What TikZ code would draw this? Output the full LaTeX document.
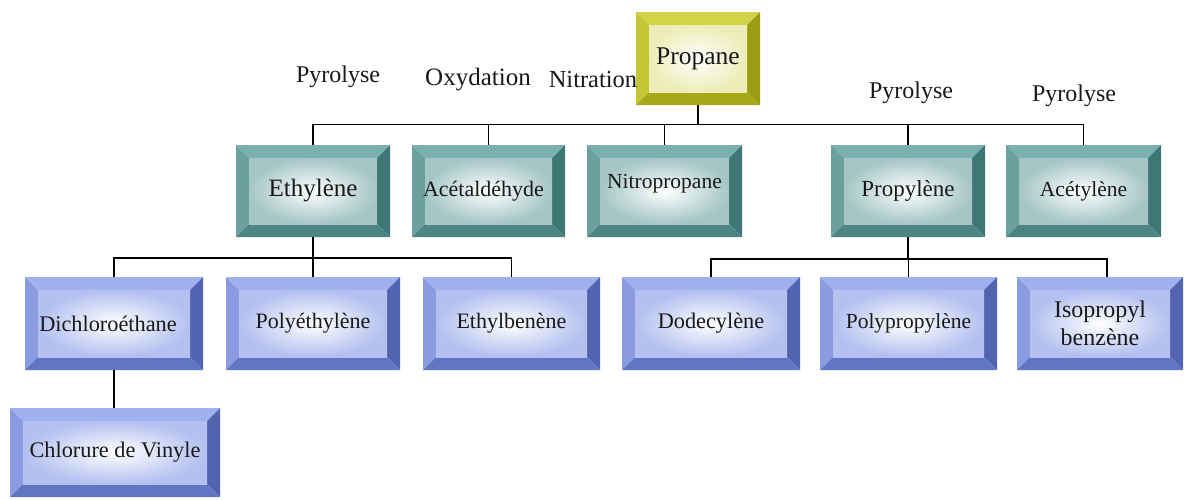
\documentclass[tikz,border=0pt]{standalone}
\usepackage{fontspec}
\setmainfont{Liberation Serif}
\newcommand\fsz[1]{\fontsize{#1}{#1}\selectfont}
\definecolor{yT}{HTML}{D2D447}
\definecolor{yL}{HTML}{C4C733}
\definecolor{yR}{HTML}{9C9D12}
\definecolor{yB}{HTML}{A6A818}
\definecolor{yI}{HTML}{EDEDB8}
\definecolor{tT}{HTML}{7CB0AE}
\definecolor{tL}{HTML}{6AA19F}
\definecolor{tR}{HTML}{3D7876}
\definecolor{tB}{HTML}{4C8583}
\definecolor{tI}{HTML}{A5C6C5}
\definecolor{bT}{HTML}{A0B1F0}
\definecolor{bL}{HTML}{8A9BE2}
\definecolor{bR}{HTML}{5264B0}
\definecolor{bB}{HTML}{6075C4}
\definecolor{bI}{HTML}{B3C0F0}
\tikzset{
  conn/.style={draw=black, line width=1.3pt},
  lbl/.style={text=black!90},
  bev/.style n args={5}{
    rectangle, inner sep=0pt, align=center, text=black!90,
    path picture={
      \fill[#1] (path picture bounding box.north west) -- (path picture bounding box.north east)
        -- ([xshift=-13pt,yshift=-13pt]path picture bounding box.north east)
        -- ([xshift=13pt,yshift=-13pt]path picture bounding box.north west) -- cycle;
      \fill[#2] (path picture bounding box.north west) -- ([xshift=13pt,yshift=-13pt]path picture bounding box.north west)
        -- ([xshift=13pt,yshift=13pt]path picture bounding box.south west)
        -- (path picture bounding box.south west) -- cycle;
      \fill[#3] (path picture bounding box.north east) -- ([xshift=-13pt,yshift=-13pt]path picture bounding box.north east)
        -- ([xshift=-13pt,yshift=13pt]path picture bounding box.south east)
        -- (path picture bounding box.south east) -- cycle;
      \fill[#4] (path picture bounding box.south west) -- ([xshift=13pt,yshift=13pt]path picture bounding box.south west)
        -- ([xshift=-13pt,yshift=13pt]path picture bounding box.south east)
        -- (path picture bounding box.south east) -- cycle;
      \shade[inner color=white, outer color=#5]
        ([xshift=13pt,yshift=13pt]path picture bounding box.south west)
        rectangle ([xshift=-13pt,yshift=-13pt]path picture bounding box.north east);
    }},
  ybox/.style={bev={yT}{yL}{yR}{yB}{yI}},
  tbox/.style={bev={tT}{tL}{tR}{tB}{tI}, minimum height=92pt},
  bbox/.style={bev={bT}{bL}{bR}{bB}{bI}, minimum height=93pt},
}
\begin{document}
\begin{tikzpicture}[x=1pt,y=-1pt]
\useasboundingbox (0,0) rectangle (1186,499);
\fill[white] (0,0) rectangle (1186,499);

% level 0
\node[ybox, minimum width=124pt, minimum height=93pt, font=\fsz{25.5}] (propane) at (698,58.5) {\raisebox{-3pt}{Propane}};

% level 1
\node[tbox, minimum width=154pt, font=\fsz{25}] (ethyl) at (313,191) {Ethylène};
\node[tbox, minimum width=153pt, font=\fsz{22}] (acetal) at (488.5,191) {\hspace*{-10pt}\raisebox{-4pt}{Acétaldéhyde}};
\node[tbox, minimum width=155pt, font=\fsz{21.5}] (nitro) at (664.5,191) {\raisebox{19pt}{Nitropropane}};
\node[tbox, minimum width=154pt, font=\fsz{23}] (propyl) at (908,191) {Propylène};
\node[tbox, minimum width=155pt, font=\fsz{21.5}] (acetyl) at (1083.5,191) {Acétylène};

% level 2
\node[bbox, minimum width=178pt, font=\fsz{22.3}] (dichloro) at (114,323.5) {\hspace*{-12pt}\raisebox{-5pt}{Dichloroéthane}};
\node[bbox, minimum width=174pt, font=\fsz{22}] (polyeth) at (313,323.5) {Polyéthylène};
\node[bbox, minimum width=177pt, font=\fsz{22}] (ethylbz) at (511.5,323.5) {Ethylbenène};
\node[bbox, minimum width=178pt, font=\fsz{22.3}] (dodec) at (711,323.5) {Dodecylène};
\node[bbox, minimum width=177pt, font=\fsz{21.5}] (polyprop) at (908.5,323.5) {Polypropylène};
\node[bbox, minimum width=166pt, align=center, font=\fontsize{24}{28}\selectfont] (iso) at (1100,323.5) {Isopropyl\\benzène};

% level 3
\node[bbox, minimum width=210pt, minimum height=89pt, font=\fsz{22.3}] (chlor) at (115,452.5) {Chlorure de Vinyle};

% labels
\node[lbl, font=\fsz{24}] (l1) at (338,77) {Pyrolyse};
\node[lbl, font=\fsz{25}] (l2) at (478,80) {Oxydation};
\node[lbl, font=\fsz{24.5}] (l3) at (593,80) {Nitration};
\node[lbl, font=\fsz{24}] (l4) at (911,93) {Pyrolyse};
\node[lbl, font=\fsz{24}] (l5) at (1074,96) {Pyrolyse};

% connectors
\coordinate (b1) at (698,125);
\draw[conn] (propane.south) -- (b1);
\draw[conn] (ethyl.north) -- ++(0,-20) -| (acetyl.north);
\draw[conn] (acetal.north) -- (acetal.north |- b1);
\draw[conn] (nitro.north) -- (nitro.north |- b1);
\draw[conn] (propyl.north) -- (propyl.north |- b1);

\coordinate (b2) at (313,258);
\draw[conn] (ethyl.south) -- (ethyl.south |- b2);
\draw[conn] (dichloro.north) |- (b2) -| (ethylbz.north);
\draw[conn] (polyeth.north) -- (polyeth.north |- b2);

\coordinate (b3) at (908,259);
\coordinate (b3e) at (1107,259);
\draw[conn] (propyl.south) -- (b3);
\draw[conn] (dodec.north) |- (b3e) -- (b3e |- iso.north);
\draw[conn] (polyprop.north) -- (polyprop.north |- b3);

\draw[conn] (dichloro.south) -- (dichloro.south |- chlor.north);
\end{tikzpicture}
\end{document}
